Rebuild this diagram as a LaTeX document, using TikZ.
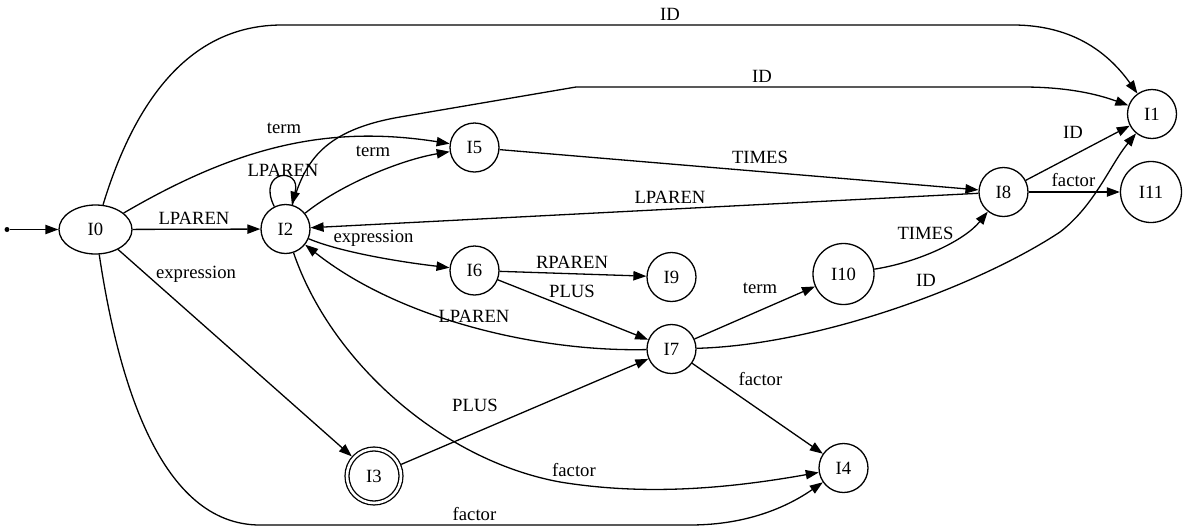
\documentclass[tikz,border=0pt]{standalone}
\usepackage{fontspec}
\setmainfont{Liberation Serif}
\usetikzlibrary{arrows.meta,shapes.geometric}
\begin{document}
\begin{tikzpicture}[x=1pt,y=-1pt,
  every node/.style={font=\rmfamily\fontsize{18.67}{22}\selectfont},
  stnode/.style={draw, circle, line width=1.3pt, inner sep=0pt, minimum size=49pt},
  bigstate/.style={stnode, minimum size=61pt},
  trans/.style={line width=1.3pt, -{Triangle[length=13pt,width=9.3pt]}},
  lbl/.style={anchor=base, inner sep=0pt}]
\useasboundingbox (0,0) rectangle (1187,531);

% states
\node[circle, fill, inner sep=0pt, minimum size=5pt] (start) at (7,229.5) {};
\node[draw, ellipse, line width=1.3pt, minimum width=73pt, minimum height=49pt, inner sep=0pt] (I0) at (95.5,229.5) {I0};
\node[stnode] (I2) at (285.5,229) {I2};
\node[stnode] (I5) at (474.5,147.5) {I5};
\node[stnode] (I6) at (474.5,270.5) {I6};
\node[stnode, double, double distance=2.6pt, minimum size=54pt, outer sep=2.6pt] (I3) at (374,476) {I3};
\node[stnode] (I9) at (671.5,277) {I9};
\node[stnode] (I7) at (671.5,349) {I7};
\node[bigstate] (I10) at (843.5,274) {I10};
\node[stnode] (I4) at (843.5,468) {I4};
\node[stnode] (I8) at (1003.5,192) {I8};
\node[stnode] (I1) at (1152,114) {I1};
\node[bigstate] (I11) at (1151,192) {I11};

% transitions
\draw[trans] (start) -- (I0);
\draw[trans] (I0) -- (I2);
\draw[trans] (I0) .. controls (135,100) and (190,25) .. (282,25) -- (1013,25)
  .. controls (1075,25) and (1110,55) .. (I1);
\draw[trans] (I2) .. controls (305,160) and (325,130) .. (400,117) -- (576,87) -- (1023,87)
  .. controls (1075,87) and (1105,97) .. (I1);
\draw[trans] (I0) .. controls (240,145) and (330,125) .. (I5);
\draw[trans] (I2) .. controls (340,185) and (400,160) .. (I5);
\draw[trans] (I2) .. controls (256,170) and (302,166) .. (I2);
\draw[trans] (I2) .. controls (340,252) and (400,262) .. (I6);
\draw[trans] (I2) .. controls (330,360) and (440,460) .. (560,482)
  .. controls (640,495) and (720,490) .. (I4);
\draw[trans] (I0) .. controls (118,380) and (160,525) .. (260,525) -- (690,525)
  .. controls (750,525) and (790,505) .. (I4);
\draw[trans] (I0) -- (I3);
\draw[trans] (I3) -- (I7);
\draw[trans] (I5) -- (I8);
\draw[trans] (I8) -- (I2);
\draw[trans] (I8) -- (I1);
\draw[trans] (I8) -- (I11);
\draw[trans] (I6) -- (I9);
\draw[trans] (I6) -- (I7);
\draw[trans] (I7) .. controls (540,352) and (400,320) .. (I2);
\draw[trans] (I7) -- (I10);
\draw[trans] (I7) .. controls (820,345) and (980,285) .. (1060,232)
  .. controls (1095,205) and (1110,165) .. (I1);
\draw[trans] (I7) -- (I4);
\draw[trans] (I10) .. controls (920,262) and (965,240) .. (I8);

% transition labels
\node[lbl] (l1) at (670,20) {ID};
\node[lbl] (l2) at (762,82) {ID};
\node[lbl] (l3) at (284,133) {term};
\node[lbl] (l4) at (373,156) {term};
\node[lbl] (l5) at (283,176) {LPAREN};
\node[lbl] (l6) at (194,224) {LPAREN};
\node[lbl] (l7) at (196,278) {expression};
\node[lbl] (l8) at (373.5,242) {expression};
\node[lbl] (l9) at (760,163) {TIMES};
\node[lbl] (l10) at (670,203) {LPAREN};
\node[lbl] (l11) at (1073,138) {ID};
\node[lbl] (l12) at (1073.5,186) {factor};
\node[lbl] (l13) at (572,268) {RPAREN};
\node[lbl] (l14) at (572,297) {PLUS};
\node[lbl] (l15) at (760,293) {term};
\node[lbl] (l16) at (925.5,239) {TIMES};
\node[lbl] (l17) at (926,286) {ID};
\node[lbl] (l18) at (474,322) {LPAREN};
\node[lbl] (l19) at (760.5,385) {factor};
\node[lbl] (l20) at (475,411) {PLUS};
\node[lbl] (l21) at (574,476) {factor};
\node[lbl] (l22) at (474.5,520) {factor};
\end{tikzpicture}
\end{document}
